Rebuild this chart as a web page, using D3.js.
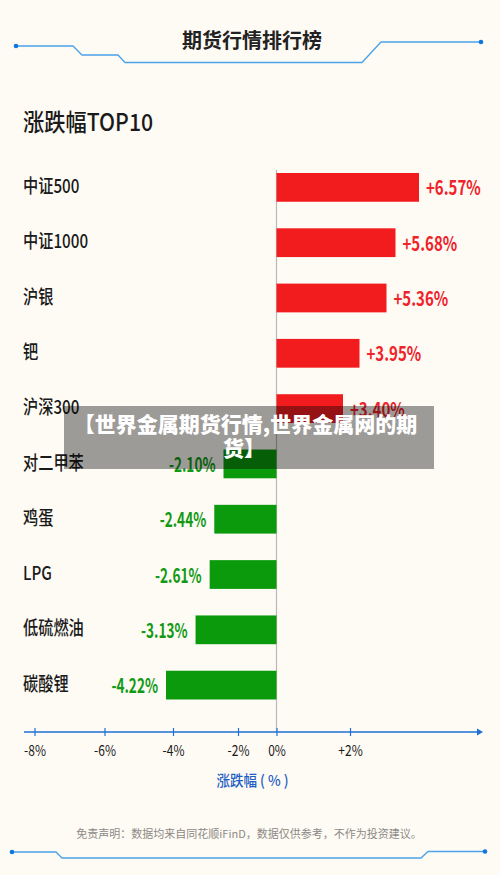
<!DOCTYPE html>
<html>
<head>
<meta charset="utf-8" />
<title>期货行情排行榜</title>
<script src="https://d3js.org/d3.v7.min.js"></script>
<style>
  body { margin: 0; padding: 0; background: #fefaf4; }
  svg { display: block; font-family: "Noto Sans CJK SC", sans-serif; }
</style>
</head>
<body>
<div id="chart"></div>
<script>
const categories = ['中证500', '中证1000', '沪银', '钯', '沪深300', '对二甲苯', '鸡蛋', 'LPG', '低硫燃油', '碳酸锂']
const values = [6.57, 5.68, 5.36, 3.95, 3.40, -2.10, -2.44, -2.61, -3.13, -4.22]
const tickValues = [-8, -6, -4, -2, 0, 2]
const tickLabels = ['-8%', '-6%', '-4%', '-2%', '0%', '+2%']

const width = 500, height = 875
const blue = '#1f6fd6', lineBlue = '#4aa3e8'

const svg = d3.select('#chart').append('svg')
  .attr('width', width)
  .attr('height', height)

svg.append('rect').attr('width', width).attr('height', height).attr('fill', '#fefaf4')

// the picture's text is condensed, no narrow font here so squeeze it
const squeeze = (sel, f) => sel.each(function (d) {
  this.setAttribute('lengthAdjust', 'spacingAndGlyphs')
  this.setAttribute('textLength', this.getComputedTextLength() * (typeof f === 'function' ? f(d) : f))
})

// the picture's axis is not evenly spaced, and the bars do not follow its ticks
const tickX = d3.scaleLinear().domain(tickValues).range([34.5, 104.5, 173, 238, 276.5, 350])
const barX = d3.scaleLinear()
  .domain([-4.22, -2.1, 0, 3.4, 3.95, 5.36, 5.68, 6.57])
  .range([166, 223.5, 276.5, 343, 359.5, 386.5, 395.5, 419])
const y = d3.scaleBand().domain(categories).range([173, 699.5]).paddingInner(0.48).paddingOuter(0)

// circuit style decoration
const line = d3.line()
function deco(points) {
  svg.append('path').attr('d', line(points)).attr('fill', 'none')
    .attr('stroke', lineBlue).attr('stroke-width', 1.3)
  ;[points[0], points[points.length - 1]].forEach(p => {
    svg.append('circle').attr('cx', p[0]).attr('cy', p[1]).attr('r', 2.3).attr('fill', '#0f76e0')
  })
}
deco([[16, 46], [73, 46], [82, 55], [118, 55], [125, 62.5], [362, 62.5], [381, 42], [481, 42]])
deco([[12, 852], [56, 852], [62, 858], [421, 858], [428, 851.5], [485, 851.5]])

svg.append('text').attr('x', 252).attr('y', 48).attr('text-anchor', 'middle')
  .attr('font-size', 20).attr('font-weight', 700).attr('fill', '#222').text('期货行情排行榜')
svg.append('text').attr('x', 23).attr('y', 131)
  .attr('font-size', 24).attr('font-weight', 500).attr('fill', '#1a1a1a').text('涨跌幅TOP10')
  .call(squeeze, 0.885)

// zero line
svg.append('line').attr('x1', barX(0)).attr('x2', barX(0)).attr('y1', 170).attr('y2', 732)
  .attr('stroke', '#b9b9b6').attr('stroke-width', 1.2)

// bars
svg.append('g').selectAll('rect').data(values).join('rect')
  .attr('x', d => Math.min(barX(d), barX(0)))
  .attr('y', (d, i) => y(categories[i]))
  .attr('width', d => Math.abs(barX(d) - barX(0)))
  .attr('height', y.bandwidth())
  .attr('fill', d => d > 0 ? '#f21c1f' : '#0a9a0c')

// value labels
svg.append('g').selectAll('text').data(values).join('text')
  .attr('x', d => d > 0 ? barX(d) + 7 : barX(d) - 8)
  .attr('y', (d, i) => y(categories[i]) + y.bandwidth() / 2 + 1)
  .attr('dy', '0.35em')
  .attr('text-anchor', d => d > 0 ? 'start' : 'end')
  .attr('font-size', 20)
  .attr('font-weight', 700)
  .attr('fill', d => d > 0 ? '#f0222a' : '#129a14')
  .text(d => (d > 0 ? '+' : '') + d.toFixed(2) + '%')
  .call(squeeze, d => d > 0 ? 0.75 : 0.68)

// category labels
svg.append('g').selectAll('text').data(categories).join('text')
  .attr('x', 23)
  .attr('y', d => y(d) + y.bandwidth() / 2 - 1)
  .attr('dy', '0.35em')
  .attr('font-size', 19)
  .attr('font-weight', 500)
  .attr('fill', '#1a1a1a')
  .text(d => d)
  .call(squeeze, 0.8)

// bottom axis
const axis = svg.append('g').attr('transform', 'translate(0,732)')
  .call(d3.axisBottom(tickX).tickValues(tickValues).tickFormat((d, i) => tickLabels[i]).tickSize(4).tickPadding(9))
axis.select('.domain').remove()
axis.selectAll('line').attr('stroke', blue).attr('y1', -4).attr('stroke-width', 1.2)
axis.selectAll('text').attr('font-family', '"Noto Sans CJK SC", sans-serif').attr('font-size', 15).attr('fill', '#1a1a1a')
  .call(squeeze, 0.8)
axis.append('line').attr('x1', 24).attr('x2', 478).attr('stroke', blue).attr('stroke-width', 1.4)
axis.append('path').attr('d', 'M477,-3.5L483,0L477,3.5Z').attr('fill', blue)

svg.append('text').attr('x', 252.5).attr('y', 786).attr('text-anchor', 'middle')
  .attr('font-size', 15).attr('font-weight', 500).attr('fill', '#1f5fc4').text('涨跌幅 ( % )')
  .call(squeeze, 0.9)
svg.append('text').attr('x', 249).attr('y', 838).attr('text-anchor', 'middle')
  .attr('font-size', 11).attr('fill', '#8c8a86').text('免责声明：数据均来自同花顺iFinD，数据仅供参考，不作为投资建议。')

// overlay banner
svg.append('rect').attr('x', 64).attr('y', 406).attr('width', 370).attr('height', 63)
  .attr('fill', '#000').attr('fill-opacity', 0.38)
const banner = svg.append('text').attr('text-anchor', 'middle')
  .attr('font-size', 21).attr('font-weight', 900).attr('fill', '#fff')
banner.append('tspan').attr('x', 245.5).attr('y', 431.5).text('【世界金属期货行情,世界金属网的期')
banner.append('tspan').attr('x', 244).attr('y', 455.5).text('货】')
</script>
</body>
</html>
